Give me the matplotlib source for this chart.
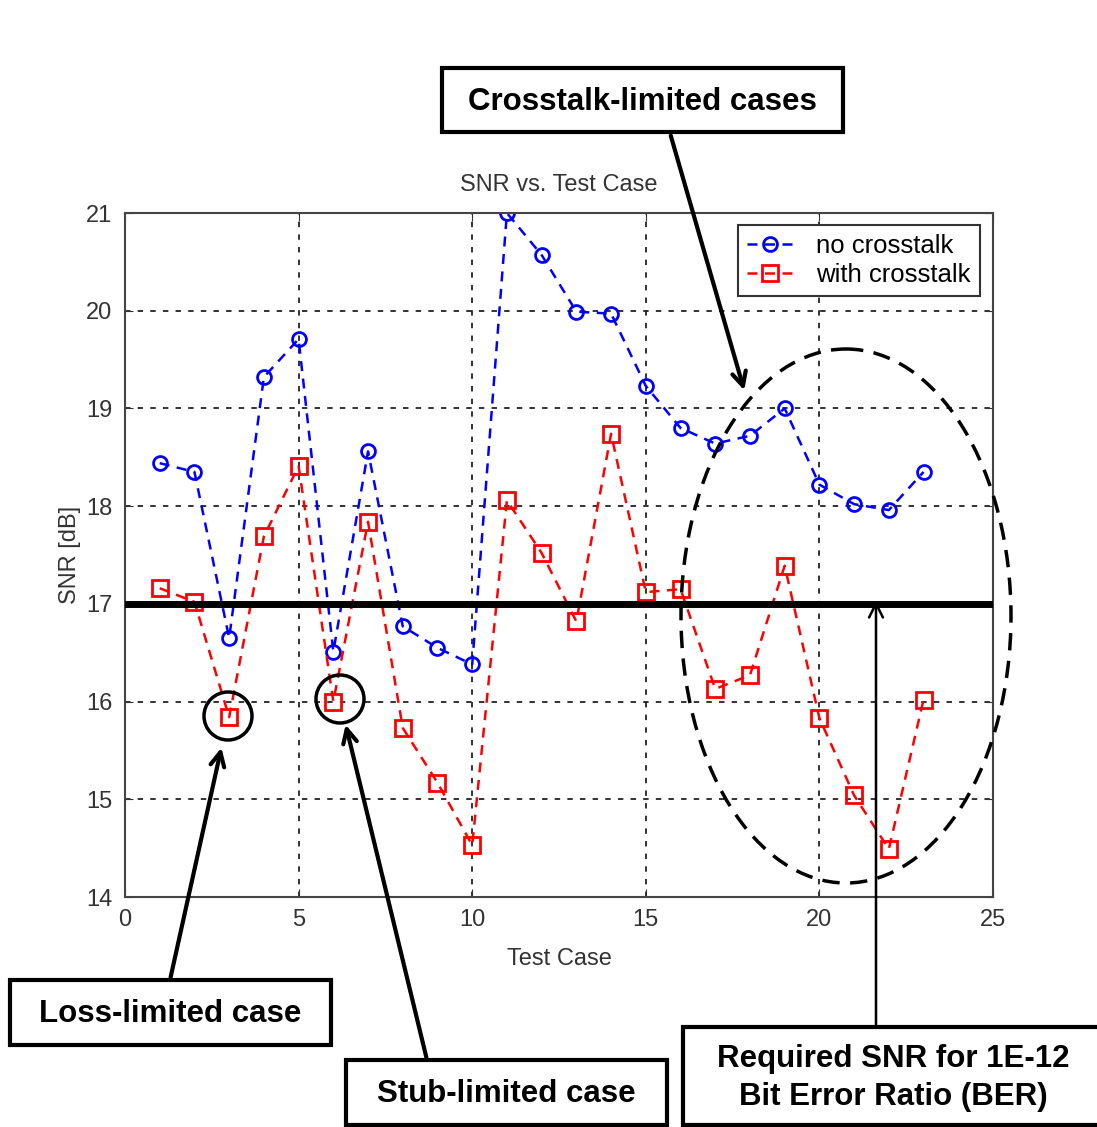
import matplotlib
matplotlib.use("Agg")
import matplotlib.pyplot as plt
from matplotlib.patches import Ellipse, Circle, Rectangle
import numpy as np

plt.rcParams['font.family'] = ['Liberation Sans', 'DejaVu Sans']

# data
test_case = np.arange(1, 24)
snr_no_xtalk = [18.44, 18.35, 16.65, 19.32, 19.71, 16.51, 18.56, 16.77, 16.55, 16.38,
                21.0, 20.57, 19.99, 19.97, 19.23, 18.80, 18.64, 18.72, 19.00, 18.22,
                18.02, 17.96, 18.35]
snr_xtalk = [17.16, 17.02, 15.84, 17.69, 18.41, 16.00, 17.84, 15.73, 15.17, 14.53,
             18.06, 17.52, 16.82, 18.74, 17.12, 17.15, 16.13, 16.27, 17.39, 15.83,
             15.04, 14.49, 16.02]
required_snr = 17
xticks = [0, 5, 10, 15, 20, 25]
yticks = [14, 15, 16, 17, 18, 19, 20, 21]

W, H = 1097, 1127
fig = plt.figure(figsize=(W / 100, H / 100), dpi=100)
ax = fig.add_axes([125 / W, 1 - 897 / H, 868 / W, 684 / H])

ax.plot(test_case, snr_no_xtalk, color='blue', ls=(0, (4, 3)), lw=1.8, marker='o',
        ms=10, mfc='none', mec='blue', mew=2, label='no crosstalk')
ax.plot(test_case, snr_xtalk, color='red', ls=(0, (4, 3)), lw=1.8, marker='s',
        ms=11, mfc='none', mec='red', mew=2, label='with crosstalk')
ax.axhline(required_snr, color='black', lw=5, zorder=3)

ax.set_xlim(0, 25)
ax.set_ylim(14, 21)
ax.set_xticks(xticks)
ax.set_yticks(yticks)
ax.grid(True, color='#222222', ls=(0, (3, 4)), lw=1.3)
ax.tick_params(direction='in', top=True, right=True, labelsize=17,
               colors='#333333', length=6, pad=9)
for s in ax.spines.values():
    s.set_color('#444444')
    s.set_linewidth(1.5)
ax.set_title('SNR vs. Test Case', fontsize=17, color='#333333', pad=16)
ax.set_xlabel('Test Case', fontsize=17, color='#333333', labelpad=12)
ax.set_ylabel('SNR [dB]', fontsize=17, color='#333333', labelpad=4)
leg = ax.legend(loc='upper right', bbox_to_anchor=(0.985, 0.983), fontsize=18.5,
                fancybox=False, framealpha=1, edgecolor='#333333',
                handlelength=1.8, borderpad=0.35, labelspacing=0.2,
                handletextpad=0.9, borderaxespad=0)
leg.get_frame().set_linewidth(1.5)

# overlay in pixel coordinates for callouts
ov = fig.add_axes([0, 0, 1, 1], facecolor='none')
ov.set_xlim(0, W)
ov.set_ylim(H, 0)
ov.axis('off')

ov.add_patch(Ellipse((846, 616), 330, 534, fill=False, ls=(0, (5, 3)),
                     lw=2.5, color='black'))
ov.add_patch(Circle((228, 716), 24, fill=False, lw=2.5, color='black'))
ov.add_patch(Circle((340, 699), 24, fill=False, lw=2.5, color='black'))

arrow = dict(arrowstyle='->,head_length=1.0,head_width=0.5', lw=3, color='black')
ov.annotate('', xy=(745, 393), xytext=(670, 133), arrowprops=arrow)
ov.annotate('', xy=(222, 745), xytext=(170, 980), arrowprops=arrow)
ov.annotate('', xy=(345, 722), xytext=(427, 1060), arrowprops=arrow)
ov.annotate('', xy=(876, 598), xytext=(876, 1028),
            arrowprops=dict(arrowstyle='->,head_length=1.0,head_width=0.5',
                            lw=1.8, color='black'))

boxes = [
    (442, 68, 401, 64, 'Crosstalk-limited cases'),
    (10, 980, 321, 65, 'Loss-limited case'),
    (346, 1060, 321, 65, 'Stub-limited case'),
    (683, 1027, 420, 98, 'Required SNR for 1E-12\nBit Error Ratio (BER)'),
]
for x0, y0, w, h, txt in boxes:
    ov.add_patch(Rectangle((x0, y0), w, h, fill=True, facecolor='white',
                           edgecolor='black', lw=3))
    ov.text(x0 + w / 2, y0 + h / 2 + 2, txt, ha='center', va='center',
            fontsize=22.5, fontweight='bold', linespacing=1.35)

fig.savefig('out.png', dpi=100)
